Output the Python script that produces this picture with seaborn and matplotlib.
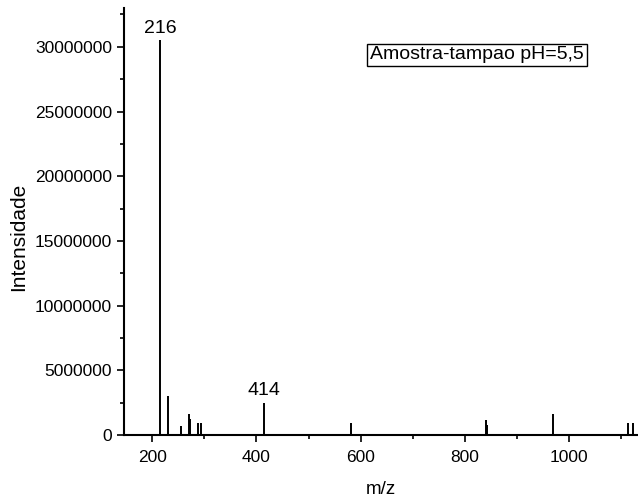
import matplotlib
matplotlib.use("Agg")
import matplotlib.pyplot as plt
import seaborn as sns
from matplotlib.ticker import MultipleLocator, FormatStrFormatter

# peaks (m/z, intensity)
mz = [216, 230, 256, 270, 273, 287, 294, 415, 581, 840, 842, 969, 1113, 1123]
intensity = [30500000, 3000000, 700000, 1600000, 1200000, 900000, 950000,
             2500000, 950000, 1150000, 800000, 1600000, 900000, 900000]
labelled = {216: "216", 415: "414"}
legend_text = "Amostra-tampao pH=5,5"

sns.set_style("ticks", {"text.color": "black", "axes.labelcolor": "black",
                        "xtick.color": "black", "ytick.color": "black"})
plt.rcParams['font.family'] = ['Liberation Sans', 'DejaVu Sans']

fig = plt.figure(figsize=(6.38, 4.99), dpi=100)
ax = fig.add_axes([124 / 638, 64 / 499, 513 / 638, 427 / 499])

ax.vlines(mz, 0, intensity, color='black', linewidth=1.4)
for x, y in zip(mz, intensity):
    if x in labelled:
        ax.text(x, y + 250000, labelled[x], ha='center', va='bottom', fontsize=14)

ax.set_xlim(146, 1130)
ax.set_ylim(0, 33000000)
ax.xaxis.set_major_locator(MultipleLocator(200))
ax.xaxis.set_minor_locator(MultipleLocator(100))
ax.yaxis.set_major_locator(MultipleLocator(5000000))
ax.yaxis.set_minor_locator(MultipleLocator(2500000))
ax.yaxis.set_major_formatter(FormatStrFormatter('%d'))
ax.tick_params(which='major', length=5, width=1.2, labelsize=12.5, color='black')
ax.tick_params(which='minor', length=3, width=1.2, color='black')
ax.tick_params(axis='x', which='major', pad=6)

ax.set_xlabel('m/z', fontsize=13.5, labelpad=11)
ax.set_ylabel('Intensidade', fontsize=15, labelpad=6)
ax.yaxis.set_label_coords(-0.186, 0.465)

for side in ['left', 'bottom']:
    ax.spines[side].set_linewidth(1.5)
    ax.spines[side].set_color('black')
sns.despine(ax=ax)

ax.text(0.688, 0.89, legend_text, transform=ax.transAxes, fontsize=14,
        ha='center', va='center',
        bbox=dict(boxstyle='square,pad=0.15', facecolor='white', edgecolor='black', linewidth=1))

fig.savefig('out.png', dpi=100)
